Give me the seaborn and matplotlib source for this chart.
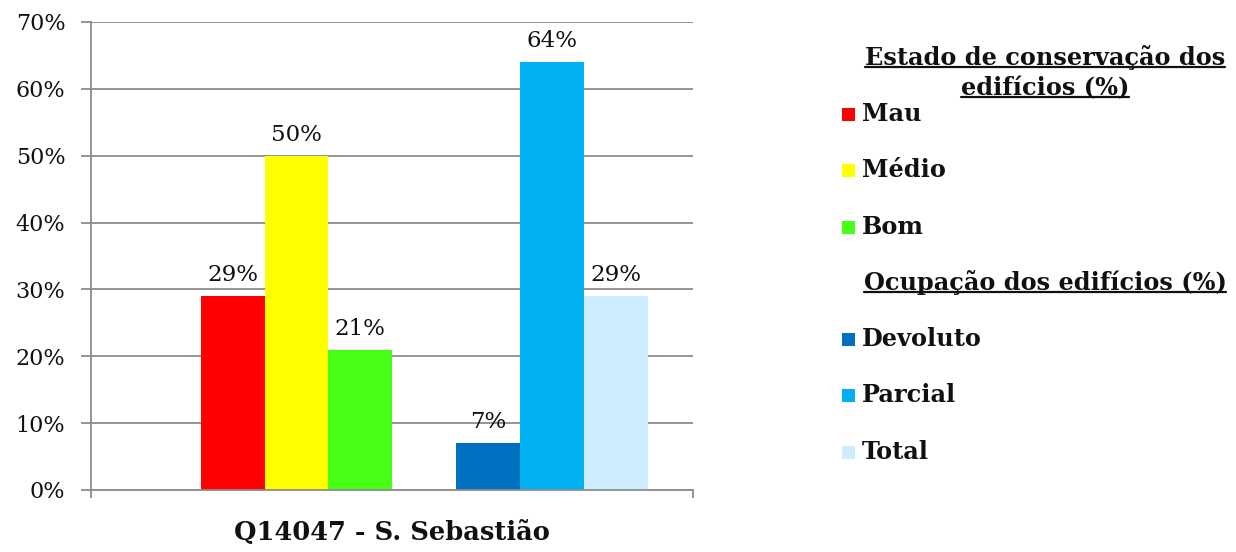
import matplotlib
matplotlib.use("Agg")
import matplotlib.pyplot as plt
import seaborn as sns
import pandas as pd
from matplotlib.patches import Rectangle

categories = ["Mau", "Médio", "Bom", "Devoluto", "Parcial", "Total"]
values = [29, 50, 21, 7, 64, 29]
colors = ["#FF0000", "#FFFF00", "#47FF14", "#0070C0", "#00B0F0", "#CCECFF"]
order = ["Mau", "Médio", "Bom", " ", "Devoluto", "Parcial", "Total"]
yticks = [0, 10, 20, 30, 40, 50, 60, 70]
xlabel = "Q14047 - S. Sebastião"
title1 = ["Estado de conservação dos", "edifícios (%)"]
title2 = "Ocupação dos edifícios (%)"

sns.set_theme(style="white")
plt.rcParams["font.family"] = ["DejaVu Serif"]

df = pd.DataFrame({"serie": categories, "valor": values})
pal = dict(zip(categories, colors))
pal[" "] = "#FFFFFF"

fig = plt.figure(figsize=(12.36, 5.52), dpi=100)
ax = fig.add_axes([91/1236, 1-490/552, 602/1236, 468/552])

sns.barplot(data=df, x="serie", y="valor", hue="serie", order=order,
            hue_order=order, palette=pal, width=1.0, dodge=False,
            legend=False, ax=ax, saturation=1, linewidth=0, edgecolor="none")

ax.set_ylim(0, 70)
ax.set_yticks(yticks)
ax.set_yticklabels([f"{v}%" for v in yticks], fontsize=16, color="#111111")
ax.yaxis.grid(True, color="#8C8C8C", linewidth=1.3)
ax.set_axisbelow(True)

xl = -0.5 - 110/64
xr = 6 + (693-615.5)/64
ax.set_xlim(xl, xr)
ax.set_xticks([xl, xr])
ax.set_xticklabels(["", ""])
ax.tick_params(axis="x", direction="out", length=6, width=1.3, color="#8C8C8C", bottom=True)
ax.tick_params(axis="y", direction="out", length=7, width=1.3, color="#8C8C8C", left=True, pad=11.5)
for s in ["top", "right"]:
    ax.spines[s].set_visible(False)
for s in ["left", "bottom"]:
    ax.spines[s].set_color("#8C8C8C")
    ax.spines[s].set_linewidth(1.3)
ax.set_xlabel("")
ax.set_ylabel("")

for p, v in zip([c for c in ax.patches if c.get_height() > 0], values):
    ax.annotate(f"{v}%", (p.get_x() + p.get_width()/2, p.get_height()),
                xytext=(0, 7), textcoords="offset points", ha="center",
                va="bottom", fontsize=16.5, color="#111111")

fig.text(392/1236, 1-532/552, xlabel, ha="center", va="center",
         fontsize=18.5, fontweight="bold", color="#111111")

# legend
fs = 17.3
underlined = []
t = fig.text(1045/1236, 1-57/552, title1[0], ha="center", va="center",
             fontsize=fs, fontweight="bold", color="#111111")
underlined.append(t)
t = fig.text(1045/1236, 1-88/552, title1[1], ha="center", va="center",
             fontsize=fs, fontweight="bold", color="#111111")
underlined.append(t)
t = fig.text(1045/1236, 1-283/552, title2, ha="center", va="center",
             fontsize=fs, fontweight="bold", color="#111111")
underlined.append(t)

ys = [114, 170, 227, 339, 395, 452]
for cat, col, y in zip(categories, colors, ys):
    fig.patches.append(Rectangle((842/1236, 1-(y+7)/552), 13/1236, 13/552,
                                 transform=fig.transFigure, facecolor=col,
                                 edgecolor="none"))
    fig.text(862/1236, 1-y/552, cat, ha="left", va="center",
             fontsize=fs, fontweight="bold", color="#111111")

fig.canvas.draw()
r = fig.canvas.get_renderer()
for t in underlined:
    bb = t.get_window_extent(renderer=r)
    yline = bb.y0 + 3
    fig.add_artist(plt.Line2D([bb.x0/1236, bb.x1/1236], [yline/552, yline/552],
                              transform=fig.transFigure, color="#111111", lw=1.6))

fig.savefig("out.png", dpi=100)
